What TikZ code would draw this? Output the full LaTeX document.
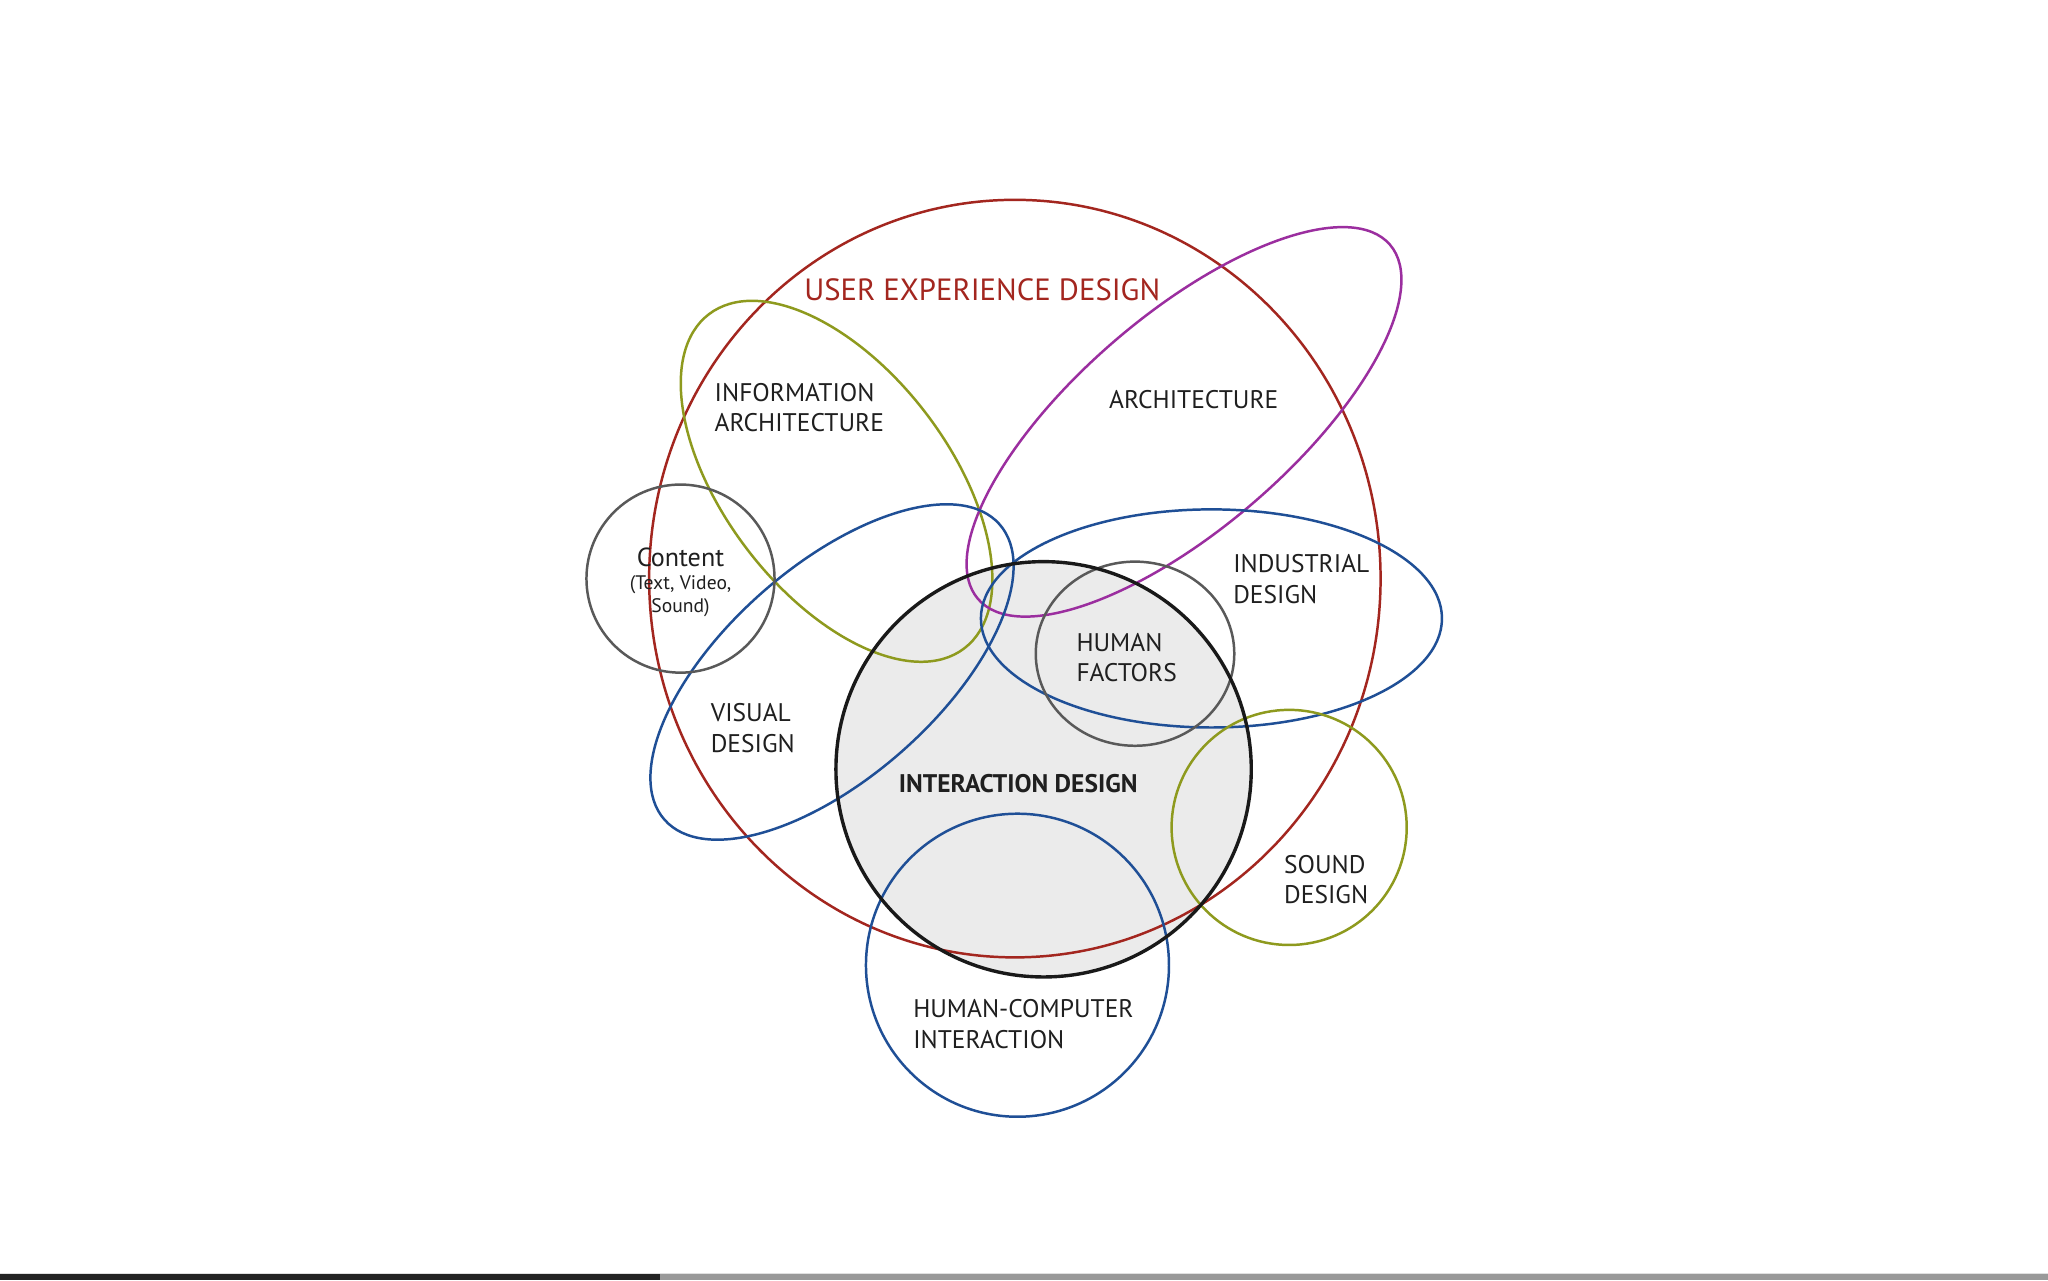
\documentclass[tikz,border=0pt]{standalone}
\usepackage{fontspec}
\setmainfont{PT Sans}
\definecolor{uxred}{HTML}{A3261F}
\definecolor{olivec}{HTML}{8E9A1E}
\definecolor{magen}{HTML}{9B2E9F}
\definecolor{bluec}{HTML}{1F4F96}
\definecolor{greyc}{HTML}{595959}
\definecolor{idfill}{HTML}{EBEBEB}
\begin{document}
\begin{tikzpicture}[x=1pt,y=1pt,
  ring/.style={line width=1.9pt},
  lbl/.style={font=\fontsize{19.5}{23.5}\selectfont, text=black!88, align=left, anchor=west, inner sep=0pt},
]
\useasboundingbox (0,0) rectangle (1568,980);
\fill[white] (0,0) rectangle (1568,980);
% bottom bar
\fill[black!12] (0,4.5) rectangle (1568,5.7);
\fill[black!86] (0,0) rectangle (505,4.5);
\fill[black!40] (505,0) rectangle (1568,4.5);

% interaction design fill
\fill[idfill] (799,391) circle (159);

% rings
\draw[ring, uxred] (777,537) ellipse [x radius=280, y radius=290];
\draw[ring, olivec, rotate around={-52.6:(640.5,611.5)}] (640.5,611.5) ellipse [x radius=161, y radius=86];
\draw[ring, magen, rotate around={40.7:(906.5,657)}] (906.5,657) ellipse [x radius=208, y radius=81.6];
\draw[ring, bluec] (927.5,506.5) ellipse [x radius=176.5, y radius=83.5];
\draw[ring, bluec, rotate around={41.4:(637,465.5)}] (637,465.5) ellipse [x radius=171, y radius=81];
\draw[ring, greyc] (521,537) circle (72);
\draw[ring, greyc] (869,479.5) ellipse [x radius=76, y radius=70.5];
\draw[ring, olivec] (987,346.5) circle (90);
\draw[ring, bluec] (779,241) circle (116);
\draw[line width=2.6pt, black!90] (799,391) circle (159);

% labels
\node[font=\fontsize{23.5}{28}\selectfont, text=uxred, inner sep=0pt] (ux) at (752,758) {USER EXPERIENCE DESIGN};
\node[lbl] (ia) at (547,668) {INFORMATION\\ARCHITECTURE};
\node[lbl] (arch) at (849,674) {ARCHITECTURE};
\node[lbl] (ind) at (944,536.5) {INDUSTRIAL\\DESIGN};
\node[lbl] (hf) at (824,476.5) {HUMAN\\FACTORS};
\node[lbl] (vis) at (544,422.5) {VISUAL\\DESIGN};
\node[lbl, font=\fontsize{19.5}{23.5}\selectfont\bfseries] (idl) at (688,380) {INTERACTION DESIGN};
\node[lbl] (snd) at (983,306.5) {SOUND\\DESIGN};
\node[lbl] (hci) at (699,196) {HUMAN-COMPUTER\\INTERACTION};
\node[font=\fontsize{20}{22}\selectfont, text=black!88, inner sep=0pt] (cont) at (521,553) {Content};
\node[font=\fontsize{15}{17}\selectfont, text=black!88, align=center, inner sep=0pt] (contsub) at (521,523.5) {(Text, Video,\\Sound)};
\end{tikzpicture}
\end{document}
